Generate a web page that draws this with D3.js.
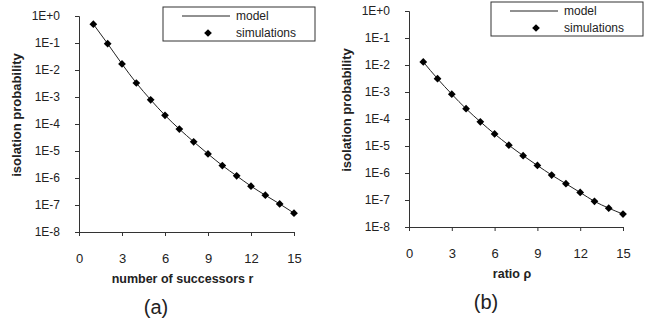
<!DOCTYPE html>
<html>
<head>
<meta charset="utf-8">
<script src="https://cdn.jsdelivr.net/npm/d3@7"></script>
<style>
  body { margin: 0; background: #fff; }
  svg { display: block; font-family: "Liberation Sans", Arial, sans-serif; }
</style>
</head>
<body>
<div id="chart-area"></div>
<script>
const W = 662, H = 325

// data
const xValues = [1, 2, 3, 4, 5, 6, 7, 8, 9, 10, 11, 12, 13, 14, 15]
const xTicks = [0, 3, 6, 9, 12, 15]
const yTicks = [1e0, 1e-1, 1e-2, 1e-3, 1e-4, 1e-5, 1e-6, 1e-7, 1e-8]
const yTickLabels = ["1E+0", "1E-1", "1E-2", "1E-3", "1E-4", "1E-5", "1E-6", "1E-7", "1E-8"]

// (a) number of successors r
const modelA = [5.0e-1, 9.4e-2, 1.67e-2, 3.3e-3, 7.9e-4, 2.1e-4, 6.5e-5, 2.2e-5, 7.8e-6, 2.9e-6, 1.2e-6, 5.0e-7, 2.3e-7, 1.1e-7, 5.0e-8]
const simA   = [5.0e-1, 9.4e-2, 1.67e-2, 3.3e-3, 7.9e-4, 2.1e-4, 6.5e-5, 2.2e-5, 7.8e-6, 2.9e-6, 1.2e-6, 5.0e-7, 2.3e-7, 1.1e-7, 5.0e-8]

// (b) ratio rho
const modelB = [1.3e-2, 3.1e-3, 8.3e-4, 2.4e-4, 7.9e-5, 2.8e-5, 1.07e-5, 4.4e-6, 1.9e-6, 8.4e-7, 4.0e-7, 1.9e-7, 8.9e-8, 5.0e-8, 3.0e-8]
const simB   = [1.3e-2, 3.1e-3, 8.3e-4, 2.4e-4, 7.9e-5, 2.8e-5, 1.07e-5, 4.4e-6, 1.9e-6, 8.4e-7, 4.0e-7, 1.9e-7, 8.9e-8, 5.0e-8, 3.0e-8]

const svg = d3.select("#chart-area").append("svg")
    .attr("width", W)
    .attr("height", H)

const AXIS = "#333"

function drawPanel(p) {
    const x = d3.scaleLinear().domain([0, 15]).range([p.x0, p.x1])
    const y = d3.scaleLog().domain([1, 1e-8]).range([p.y0, p.y1])

    const g = svg.append("g")

    // y axis
    const yAxis = g.append("g")
        .attr("transform", `translate(${p.x0},0)`)
        .call(d3.axisLeft(y).tickValues(yTicks).tickSize(4).tickPadding(15)
            .tickFormat((d, i) => yTickLabels[i]))
    yAxis.select(".domain").attr("stroke", AXIS)
    yAxis.selectAll(".tick line").attr("stroke", AXIS)
    yAxis.selectAll("text").attr("font-size", "12px").attr("fill", "#222")
        .attr("font-family", "Liberation Sans, Arial, sans-serif")

    // x axis
    const xAxis = g.append("g")
        .attr("transform", `translate(0,${p.y1})`)
        .call(d3.axisBottom(x).tickValues(xTicks).tickSize(4).tickPadding(18))
    xAxis.select(".domain").attr("stroke", AXIS)
    xAxis.selectAll(".tick line").attr("stroke", AXIS)
    xAxis.selectAll("text").attr("font-size", "13px").attr("fill", "#222")
        .attr("font-family", "Liberation Sans, Arial, sans-serif")

    // model line
    const line = d3.line()
        .x((d, i) => x(xValues[i]))
        .y(d => y(d))
        .curve(d3.curveMonotoneX)
    g.append("path")
        .datum(p.model)
        .attr("fill", "none")
        .attr("stroke", "#222")
        .attr("stroke-width", 1)
        .attr("d", line)

    // simulations
    const diamond = d3.symbol().type(d3.symbolSquare).size(30)
    g.selectAll(".sim")
        .data(p.sim)
        .enter().append("path")
        .attr("class", "sim")
        .attr("d", diamond)
        .attr("fill", "#000")
        .attr("transform", (d, i) => `translate(${x(xValues[i])},${y(d)}) rotate(45)`)

    // axis labels
    g.append("text")
        .attr("x", (p.x0 + p.x1) / 2 - 4)
        .attr("y", p.y1 + 51)
        .attr("text-anchor", "middle")
        .attr("font-size", "12.5px")
        .attr("font-weight", "bold")
        .attr("fill", "#222")
        .text(p.xLabel)

    g.append("text")
        .attr("transform", `translate(${p.x0 - 58},${(p.y0 + p.y1) / 2 - 9}) rotate(-90)`)
        .attr("text-anchor", "middle")
        .attr("font-size", "13px")
        .attr("font-weight", "bold")
        .attr("fill", "#222")
        .text("isolation probability")

    g.append("text")
        .attr("x", p.tagX)
        .attr("y", p.y1 + 82)
        .attr("text-anchor", "middle")
        .attr("font-size", "20px")
        .attr("fill", "#222")
        .text(p.tag)

    // legend
    const lg = g.append("g").attr("transform", `translate(${p.legX},${p.legY})`)
    lg.append("rect")
        .attr("x", 0).attr("y", 0)
        .attr("width", 152).attr("height", 34)
        .attr("fill", "#fff")
        .attr("stroke", AXIS)
    lg.append("line")
        .attr("x1", 19).attr("x2", 67)
        .attr("y1", 9).attr("y2", 9)
        .attr("stroke", "#222")
    lg.append("path")
        .attr("d", diamond)
        .attr("fill", "#000")
        .attr("transform", "translate(45,26) rotate(45)")
    lg.append("text").attr("x", 73).attr("y", 13)
        .attr("font-size", "12px").attr("fill", "#222").text("model")
    lg.append("text").attr("x", 73).attr("y", 30)
        .attr("font-size", "12px").attr("fill", "#222").text("simulations")
}

drawPanel({
    x0: 79, x1: 294, y0: 16, y1: 232,
    model: modelA, sim: simA,
    xLabel: "number of successors r", tag: "(a)", tagX: 156,
    legX: 163, legY: 7
})

drawPanel({
    x0: 409, x1: 623, y0: 11, y1: 227,
    model: modelB, sim: simB,
    xLabel: "ratio ρ", tag: "(b)", tagX: 486,
    legX: 491, legY: 2
})
</script>
</body>
</html>
